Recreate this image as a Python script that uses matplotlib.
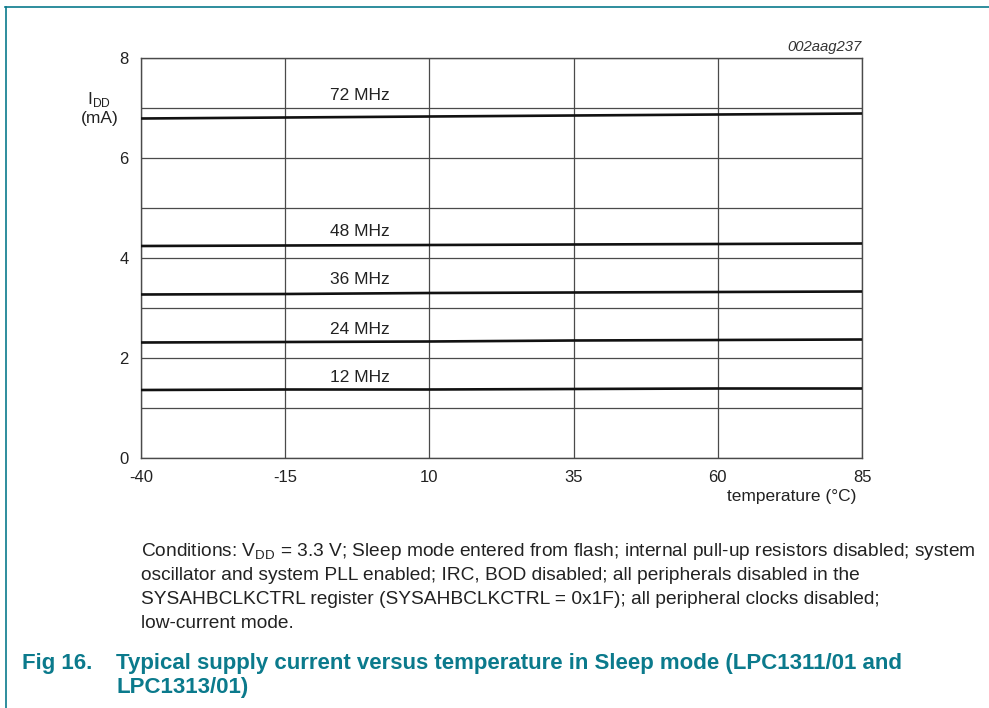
import matplotlib
matplotlib.use("Agg")
import matplotlib.pyplot as plt
from matplotlib.lines import Line2D

plt.rcParams['font.family'] = ['Liberation Sans', 'DejaVu Sans']
plt.rcParams['mathtext.fontset'] = 'custom'
plt.rcParams['mathtext.rm'] = 'Liberation Sans'
plt.rcParams['axes.unicode_minus'] = False

# ---- data ----
temps = [-40, -15, 10, 35, 60, 85]
idd_72 = [6.79, 6.81, 6.83, 6.85, 6.87, 6.89]
idd_48 = [4.24, 4.25, 4.26, 4.27, 4.28, 4.29]
idd_36 = [3.27, 3.28, 3.30, 3.31, 3.32, 3.33]
idd_24 = [2.31, 2.32, 2.33, 2.35, 2.36, 2.37]
idd_12 = [1.36, 1.37, 1.37, 1.38, 1.39, 1.39]
series_labels = ["72 MHz", "48 MHz", "36 MHz", "24 MHz", "12 MHz"]
label_pos = [7.24, 4.52, 3.56, 2.58, 1.60]
label_temp = -2
xtick_vals = [-40, -15, 10, 35, 60, 85]
xtick_labels = ["-40", "-15", "10", "35", "60", "85"]
ytick_vals = [0, 2, 4, 6, 8]
ytick_labels = ["0", "2", "4", "6", "8"]
ygrid_minor = [1, 3, 5, 7]

W, H = 989, 708
fig = plt.figure(figsize=(W / 100, H / 100), dpi=100)

def fx(x):
    return x / W

def fy(y):
    return 1 - y / H

TEAL = '#0b7a8c'
GRID = '#4a4a4a'
TXT = '#222222'

ax = fig.add_axes([fx(141), fy(458), fx(862) - fx(141), fy(58) - fy(458)])
ax.set_xlim(-40, 85)
ax.set_ylim(0, 8)
ax.set_xticks(xtick_vals)
ax.set_xticklabels(xtick_labels)
ax.set_yticks(ytick_vals)
ax.set_yticklabels(ytick_labels)
ax.set_yticks(ygrid_minor, minor=True)
ax.tick_params(axis='both', which='both', length=0, labelsize=12, colors=TXT)
ax.tick_params(axis='x', pad=9)
ax.tick_params(axis='y', pad=9)
ax.grid(True, which='both', color=GRID, linewidth=0.9)
for s in ax.spines.values():
    s.set_color(GRID)
    s.set_linewidth(1.0)

for vals in [idd_72, idd_48, idd_36, idd_24, idd_12]:
    ax.plot(temps, vals, color='#111111', linewidth=1.9, solid_capstyle='butt', zorder=3)

for lab, yv in zip(series_labels, label_pos):
    ax.text(label_temp, yv, lab, ha='center', va='center', fontsize=12.5, color=TXT)

# axis labels
fig.text(fx(87), fy(104), r'I$_{\mathregular{DD}}$', ha='left', va='baseline', fontsize=12.5, color=TXT)
fig.text(fx(100), fy(118), '(mA)', ha='center', va='center', fontsize=12.5, color=TXT)
fig.text(fx(856), fy(497), 'temperature (°C)', ha='right', va='center', fontsize=12.5, color=TXT)
fig.text(fx(862), fy(47), '002aag237', ha='right', va='center', fontsize=10.7, style='italic', color='#333333')

# frame lines
fig.add_artist(Line2D([fx(5), fx(989)], [fy(7), fy(7)], color=TEAL, linewidth=1.2))
fig.add_artist(Line2D([fx(6), fx(6)], [fy(7), fy(708)], color=TEAL, linewidth=1.2))

# conditions
cond = [
    r'Conditions: V$_{\mathregular{DD}}$ = 3.3 V; Sleep mode entered from flash; internal pull-up resistors disabled; system',
    'oscillator and system PLL enabled; IRC, BOD disabled; all peripherals disabled in the',
    'SYSAHBCLKCTRL register (SYSAHBCLKCTRL = 0x1F); all peripheral clocks disabled;',
    'low-current mode.',
]
for i, line in enumerate(cond):
    fig.text(fx(141), fy(551 + 24 * i), line, ha='left', va='center', fontsize=13.8, color=TXT)

fig.text(fx(22), fy(663), 'Fig 16.', ha='left', va='center', fontsize=16, fontweight='bold', color=TEAL)
fig.text(fx(116), fy(663), 'Typical supply current versus temperature in Sleep mode (LPC1311/01 and',
         ha='left', va='center', fontsize=16, fontweight='bold', color=TEAL)
fig.text(fx(116), fy(688), 'LPC1313/01)', ha='left', va='center', fontsize=16, fontweight='bold', color=TEAL)

fig.savefig('out.png', dpi=100, facecolor='white')
